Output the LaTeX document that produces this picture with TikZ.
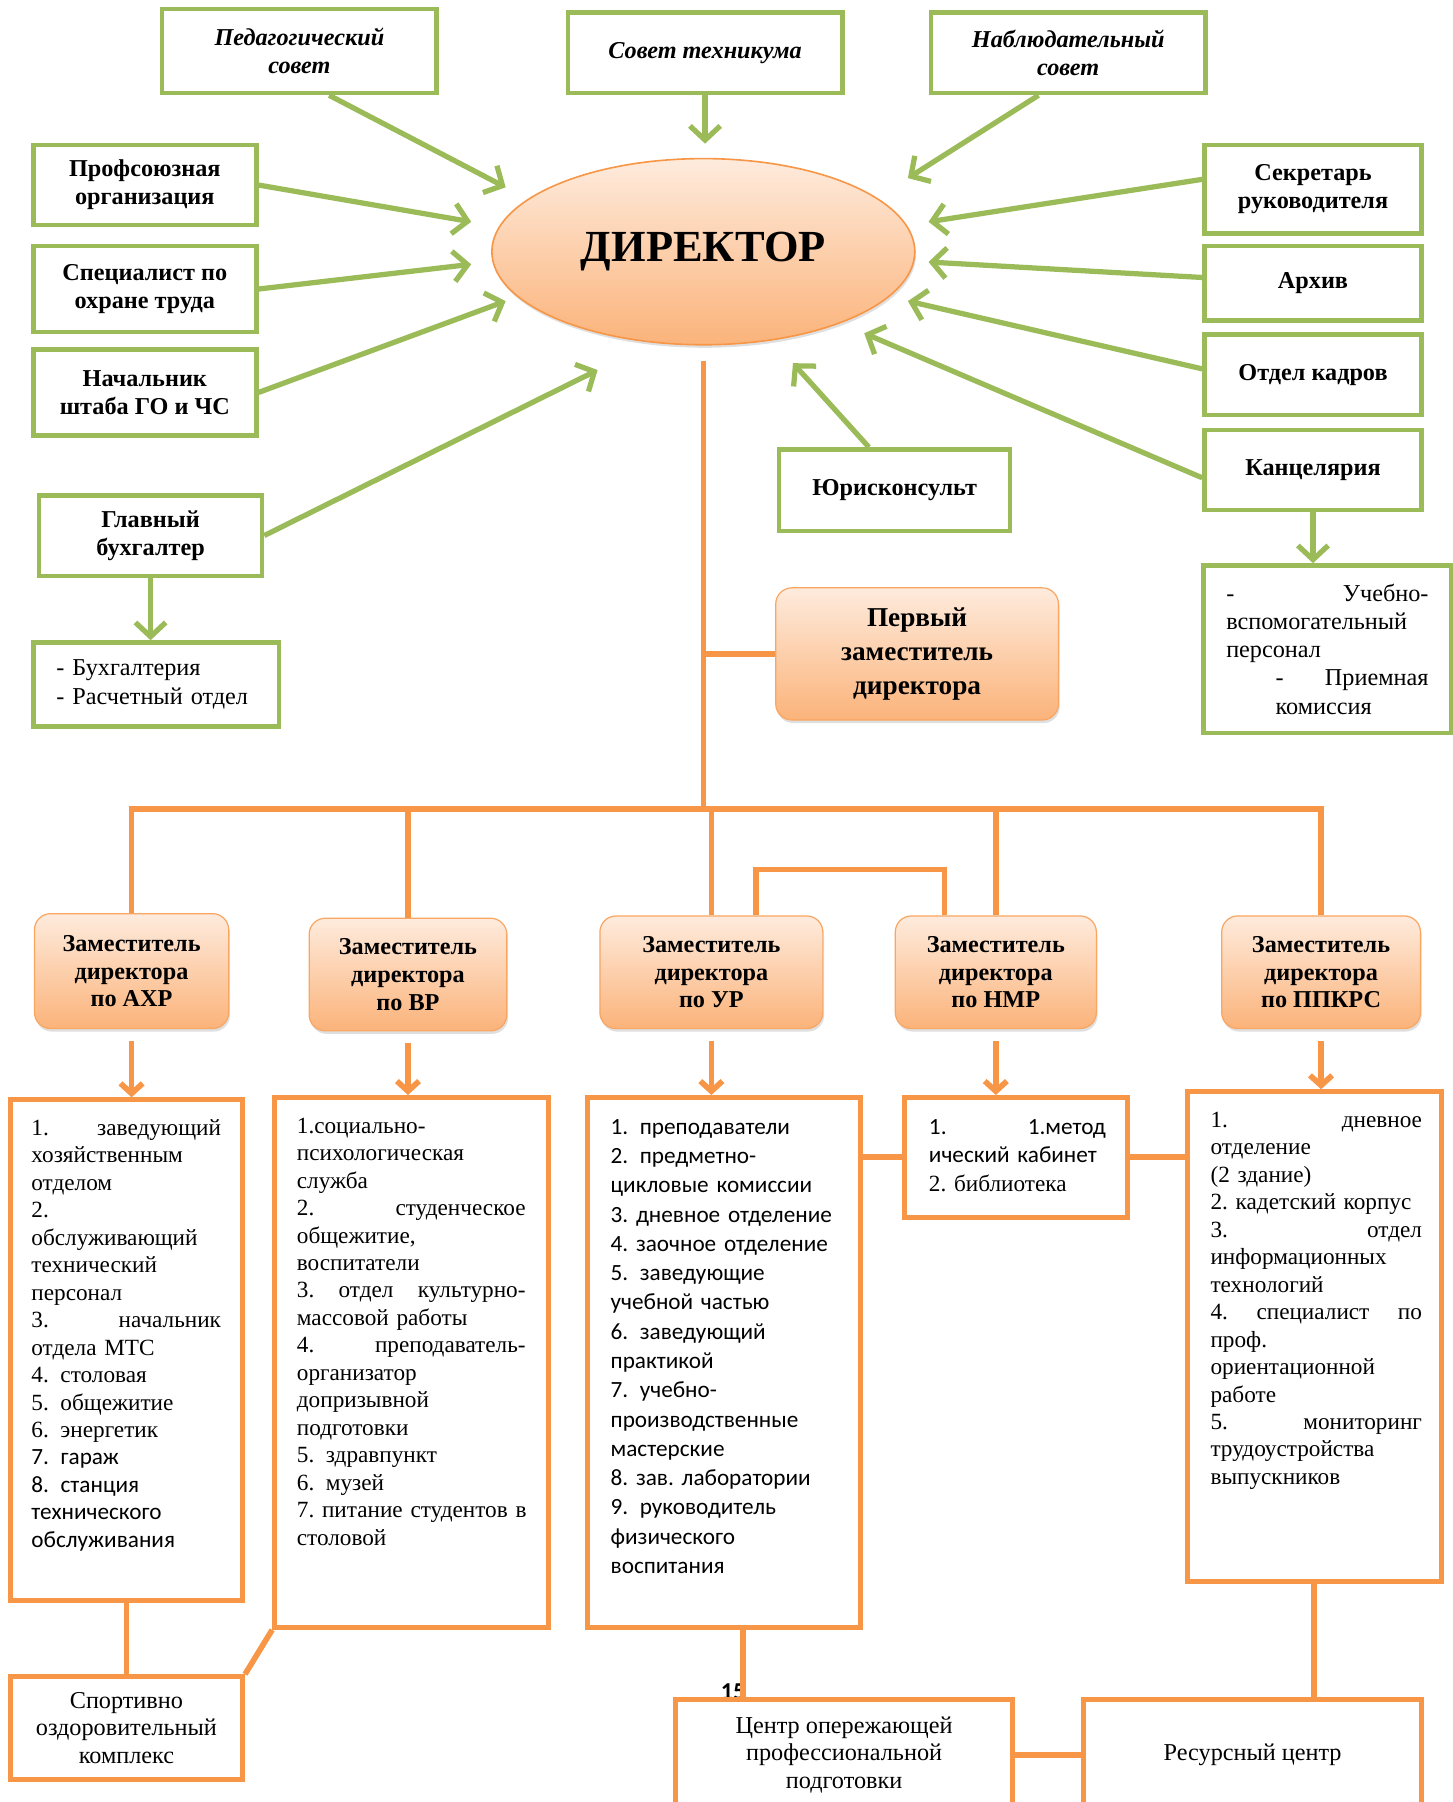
\documentclass[tikz,border=0pt]{standalone}
\usepackage{fontspec}
\setmainfont{Liberation Serif}
\newfontfamily\calfont{Carlito}
\usetikzlibrary{arrows.meta,shapes.geometric,positioning,shadows}
\definecolor{grn}{HTML}{9BBB59}
\definecolor{org}{HTML}{F79646}
\definecolor{orgtop}{HTML}{FEEBDD}
\definecolor{orgbot}{HTML}{FBB37A}
\tikzset{
	wh/.style 2 args={minimum width=#1*0.02cm,minimum height=#2*0.02cm},
	gbox/.style={draw=grn,line width=2.2pt,fill=white,inner sep=1pt,align=center,font=\fontsize{12}{14}\selectfont\bfseries},
	gtop/.style={gbox,font=\fontsize{12}{14}\selectfont\bfseries\itshape},
	glist/.style={gbox,align=left,inner xsep=0.4cm,font=\fontsize{12}{13.9}\selectfont},
	obox/.style={draw=org,line width=2.5pt,fill=white},
	ocap/.style={obox,align=center,font=\fontsize{12}{13.7}\selectfont},
	oshade/.style={top color=orgtop,bottom color=orgbot,drop shadow={opacity=0.25,shadow xshift=0.6pt,shadow yshift=-1.5pt}},
	dep/.style={oshade,draw=org!85,line width=0.6pt,rounded corners=8pt,align=center,font=\fontsize{12}{13.7}\selectfont\bfseries},
	ltext/.style={inner sep=0pt,anchor=base west,align=left,font=\fontsize{11.5}{13.6}\selectfont},
	garrow/.style={grn,line width=2.6pt,-{Straight Barb[length=7pt,width=15pt]}},
	oline/.style={org,line width=2.8pt},
	oarrow/.style={oline,shorten <=0.2cm,-{Straight Barb[length=5pt,width=11pt]}}
}
\begin{document}
\begin{tikzpicture}[x=0.02cm,y=-0.02cm]
\useasboundingbox (0,0) rectangle (1264,1568);

\node[gtop,wh={239}{73}] at (260.5,44.5) (ped) {Педагогический\\совет};
\node[gtop,wh={239}{70}] at (613.5,46) (sov) {Совет техникума};
\node[gtop,wh={239}{70}] at (929.5,46) (nab) {Наблюдательный\\совет};
\node[gbox,wh={194}{70}] at (126,161) (prof) {Профсоюзная\\организация};
\node[gbox,wh={194}{75}] at (126,251.5) (spec) {Специалист по\\охране труда};
\node[gbox,wh={194}{75}] at (126,341.5) (nach) {Начальник\\штаба ГО и ЧС};
\node[gbox,wh={194}{70}] at (131,466) (glav) {Главный\\бухгалтер};
\node[glist,text width=3.48cm,wh={214}{73}] at (136,595.5) (buh) {- Бухгалтерия\\- Расчетный~отдел};
\node[gbox,wh={189}{77}] at (1142.5,164.5) (sekr) {Секретарь\\руководителя};
\node[gbox,wh={189}{65}] at (1142.5,246.5) (arh) {Архив};
\node[gbox,wh={189}{70}] at (1142.5,326) (kadr) {Отдел кадров};
\node[gbox,wh={189}{70}] at (1142.5,409) (kanc) {Канцелярия};
\node[glist,text width=3.52cm,wh={214}{146}] at (1155,565) (ucheb) {-\hfill Учебно-\\вспомогательный\\персонал\\\hspace*{0.86cm}-\hfill Приемная\\\hspace*{0.86cm}комиссия};
\node[gbox,wh={201}{71}] at (778.5,426.5) (jur) {Юрисконсульт};
\node[ellipse,oshade,draw=org,line width=0.8pt,wh={368}{162},font=\fontsize{22}{26}\selectfont\bfseries] at (612,219) (dir) {ДИРЕКТОР};
\node[dep,wh={246}{115},font=\fontsize{13.5}{17}\selectfont\bfseries] at (798,569) (perv) {Первый\\заместитель\\директора};

\node[dep,wh={169}{100}] at (114.5,845) (axr) {Заместитель\\директора\\по АХР};
\node[dep,wh={172}{98}] at (355,848) (vr) {Заместитель\\директора\\по ВР};
\node[dep,wh={194}{98}] at (619,846) (ur) {Заместитель\\директора\\по УР};
\node[dep,wh={175}{98}] at (866.5,846) (nmr) {Заместитель\\директора\\по НМР};
\node[dep,wh={173}{98}] at (1149.5,846) (pp) {Заместитель\\директора\\по ППКРС};

\node[obox,wh={202}{436}] at (110,1175) (axrl) {};
\node[obox,wh={238}{461}] at (358,1185.5) (vrl) {};
\node[obox,wh={238}{461}] at (630,1185.5) (url) {};
\node[obox,wh={194}{104}] at (884,1007) (nmrl) {};
\node[obox,wh={221}{426}] at (1143.5,1163) (ppl) {};

\node[ltext,text width=3.3cm] at (27,988) (axrt) {1.\hfill заведующий\\хозяйственным\\отделом\\2.\\обслуживающий\\технический\\персонал\\3.\hfill начальник\\отдела~МТС\\4.\enspace столовая\\5.\enspace общежитие\\6.\enspace энергетик\\{\calfont 7. гараж\\8.\enspace станция\\технического\\обслуживания}};
\node[ltext,text width=3.98cm] at (258,986) (vrt) {1.социально-\\психологическая\\служба\\2.\hfill студенческое\\общежитие,\\воспитатели\\3.\hfill отдел\hfill культурно-\\массовой~работы\\4.\hfill преподаватель-\\организатор\\допризывной\\подготовки\\5. здравпункт\\6. музей\\7.~питание~студентов~в\\столовой};
\node[ltext,text width=4cm,font=\calfont\fontsize{11.5}{14.5}\selectfont] at (531,987) (urt) {1. преподаватели\\2. предметно-\\цикловые~комиссии\\3.~дневное~отделение\\4.~заочное~отделение\\5. заведующие\\учебной~частью\\6. заведующий\\практикой\\7. учебно-\\производственные\\мастерские\\8.~зав.~лаборатории\\9. руководитель\\физического\\воспитания};
\node[ltext,text width=3.08cm,font=\calfont\fontsize{11.5}{14.2}\selectfont] at (808,987) (nmrt) {1.\hfill 1.метод\\ический~кабинет\\{\rmfamily 2.~библиотека}};
\node[ltext,text width=3.68cm] at (1053,981) (pplt) {1.\hfill дневное\\отделение\\(2 здание)\\2.~кадетский~корпус\\3.\hfill отдел\\информационных\\технологий\\4.\hfill специалист\hfill по\\проф.\\ориентационной\\работе\\5.\hfill мониторинг\\трудоустройства\\выпускников};

\node[ocap,wh={202}{89}] at (110,1503.5) (sport) {Спортивно\\оздоровительный\\комплекс};
\node[font=\calfont\bfseries\fontsize{12}{14}\selectfont,inner sep=0pt] at (638,1472) (pg) {15};
\node[ocap,wh={293}{96}] at (734.5,1527) (cen) {Центр опережающей\\профессиональной\\подготовки};
\node[ocap,wh={294}{96}] at (1090,1527) (res) {Ресурсный центр};

\coordinate (ta) at (440,163);
\coordinate (tb) at (613.5,125);
\coordinate (tc) at (790,155);
\coordinate (td) at (410,193);
\coordinate (te) at (410,230);
\coordinate (tf) at (440,262);
\coordinate (tg) at (520,322);
\coordinate (th) at (808,193);
\coordinate (ti) at (808,228);
\coordinate (tj) at (790,262);
\coordinate (tk) at (752,290);
\coordinate (tl) at (690,316);
\coordinate (bus) at (612,704);

\draw[garrow] (ped.-56) -- (ta);
\draw[garrow] (sov.south) -- (tb);
\draw[garrow] (nab.-125) -- (tc);
\draw[garrow] (prof.east) -- (td);
\draw[garrow] (spec.east) -- (te);
\draw[garrow] (nach.east) -- (tf);
\draw[garrow] (glav.east) -- (tg);
\draw[garrow] (sekr.175) -- (th);
\draw[garrow] (arh.177) -- (ti);
\draw[garrow] (kadr.177) -- (tj);
\draw[garrow] (kanc.184) -- (tk);
\draw[garrow] (jur.121) -- (tl);
\draw[garrow] (glav.south) -- (glav.south |- buh.north);
\draw[garrow] (kanc.south) -- (kanc.south |- ucheb.north);

\draw[oline,shorten <=0.26cm] (dir.south) -- (bus);
\draw[oline] (perv.west -| bus) -- (perv.west);
\draw[oline] (axr.north) |- (pp.north |- bus) -- (pp.north);
\draw[oline] (vr.north) -- (vr.north |- bus);
\draw[oline] (ur.north) -- (ur.north |- bus);
\draw[oline] (nmr.north) -- (nmr.north |- bus);
\draw[oline] (ur.52) -- ++(0,-40) -| (nmr.132);
\draw[oarrow] (axr.south) -- (axr.south |- axrl.north);
\draw[oarrow] (vr.south) -- (vr.south |- vrl.north);
\draw[oarrow] (ur.south) -- (ur.south |- url.north);
\draw[oarrow] (nmr.south) -- (nmr.south |- nmrl.north);
\draw[oarrow] (pp.south) -- (pp.south |- ppl.north);
\draw[oline] (url.east |- nmrl.west) -- (nmrl.west);
\draw[oline] (nmrl.east) -- (nmrl.east -| ppl.west);
\draw[oline] (axrl.south) -- (sport.north);
\draw[oline] (vrl.south west) -- (sport.north east);
\draw[oline] (url.-86) -- (url.-86 |- cen.north);
\draw[oline] (ppl.south) -- (ppl.south |- res.north);
\draw[oline] (cen.east) -- (res.west);
\end{tikzpicture}
\end{document}
